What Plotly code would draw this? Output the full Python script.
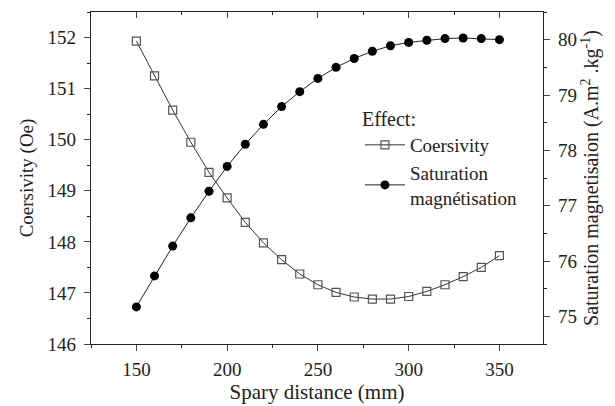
import plotly.graph_objects as go

distance = [150, 160, 170, 180, 190, 200, 210, 220, 230, 240, 250,
            260, 270, 280, 290, 300, 310, 320, 330, 340, 350]
coercivity = [151.93, 151.25, 150.58, 149.95, 149.36, 148.86, 148.38, 147.98,
              147.65, 147.37, 147.16, 147.01, 146.92, 146.88, 146.88, 146.93,
              147.03, 147.16, 147.32, 147.50, 147.73]
saturation = [75.17, 75.73, 76.27, 76.78, 77.26, 77.71, 78.11, 78.47, 78.79,
              79.06, 79.30, 79.50, 79.66, 79.79, 79.89, 79.95, 79.99, 80.02,
              80.03, 80.02, 80.00]

FONT = "Liberation Serif"
fig = go.Figure()
fig.add_trace(go.Scatter(
    x=distance, y=coercivity, name="Coersivity", mode="lines+markers",
    line=dict(color="#333333", width=1),
    marker=dict(symbol="square-open", size=8, color="#555555", line=dict(width=1.2)),
))
fig.add_trace(go.Scatter(
    x=distance, y=saturation, name="Saturation<br>magnétisation", mode="lines+markers",
    yaxis="y2",
    line=dict(color="#222222", width=1),
    marker=dict(symbol="circle", size=9, color="black"),
))
# invisible trace to carry the top axis
fig.add_trace(go.Scatter(x=[distance[0]], y=[coercivity[0]], xaxis="x2", mode="markers",
                         marker=dict(opacity=0), showlegend=False, hoverinfo="skip"))

tickfont = dict(family=FONT, size=19, color="#222")
fig.update_layout(
    width=607, height=398,
    margin=dict(l=83, r=72, t=4, b=62),
    paper_bgcolor="white", plot_bgcolor="white",
    font=dict(family=FONT, color="#222"),
    xaxis=dict(range=[125, 374], tick0=150, dtick=50, ticks="outside", ticklen=6,
               tickwidth=1, showline=True, linecolor="#222", linewidth=1.2,
               showgrid=False, zeroline=False, tickfont=tickfont, automargin=False,
               ticklabelstandoff=2,
               minor=dict(dtick=25, ticks="outside", ticklen=3, tickcolor="#222"),
               title=dict(text="Spary distance (mm)", font=dict(family=FONT, size=21, color="#222"),
                          standoff=4)),
    xaxis2=dict(range=[125, 374], overlaying="x", side="top", anchor="y", tick0=150, dtick=50,
                ticks="inside", ticklen=6, showticklabels=False, showline=True,
                linecolor="#222", linewidth=1.2, showgrid=False, zeroline=False, automargin=False,
                minor=dict(dtick=25, ticks="inside", ticklen=3, tickcolor="#222")),
    yaxis=dict(range=[146, 152.5], dtick=1, tick0=146, ticks="outside", ticklen=6,
               showline=True, linecolor="#222", linewidth=1.2, showgrid=False,
               zeroline=False, tickfont=tickfont, automargin=False, ticklabelstandoff=4,
               minor=dict(dtick=0.5, ticks="outside", ticklen=3, tickcolor="#222"),
               title=dict(text="Coersivity (Oe)", font=dict(family=FONT, size=19, color="#222"),
                          standoff=8)),
    yaxis2=dict(range=[74.5, 80.5], dtick=1, tick0=75, overlaying="y", side="right",
                anchor="x", ticks="outside", ticklen=6, showline=True, linecolor="#222",
                linewidth=1.2, showgrid=False, zeroline=False, tickfont=tickfont, automargin=False,
                ticklabelstandoff=4,
                minor=dict(dtick=0.5, ticks="outside", ticklen=3, tickcolor="#222"),
                title=dict(text="Saturation magnetisaion (A.m<sup>2</sup> .kg<sup>-1</sup>)",
                           font=dict(family=FONT, size=20, color="#222"), standoff=8)),
    legend=dict(x=0.595, y=0.735, xanchor="left", yanchor="top",
                bgcolor="rgba(0,0,0,0)", font=dict(family=FONT, size=19, color="#222"),
                title=dict(text="Effect:", font=dict(family=FONT, size=20, color="#222")),
                itemwidth=40, tracegroupgap=0),
    showlegend=True,
)
fig.write_html("out.html")
